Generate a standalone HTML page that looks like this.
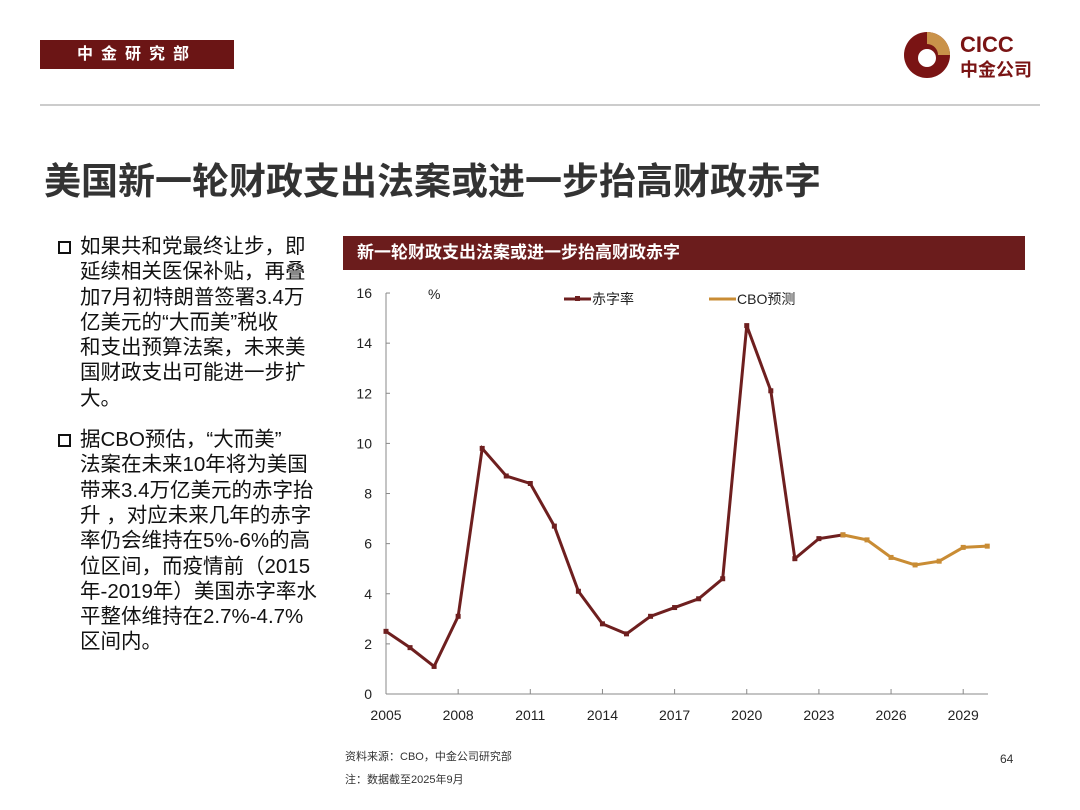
<!DOCTYPE html>
<html><head><meta charset="utf-8"><style>
body{margin:0;width:1080px;height:810px;background:#fff;font-family:"Liberation Sans","Noto Sans CJK SC",sans-serif;position:relative;overflow:hidden}
.abs{position:absolute}
</style></head><body>
<div class="abs" style="left:40px;top:40px;width:194px;height:29px;background:#6b1515;color:#fff;font-size:16px;font-weight:bold;line-height:29px;text-align:center;letter-spacing:8px">中金研究部</div>
<div class="abs" style="left:902px;top:28px;width:150px;height:56px">
<svg width="50" height="50" viewBox="0 0 50 50" style="position:absolute;left:0;top:2px"><circle cx="25" cy="25" r="23" fill="#7a1414"/><path d="M25 2 A23 23 0 0 1 48 25 L36 25 A11 11 0 0 0 25 14Z" fill="#c9924a"/><circle cx="25" cy="28" r="9" fill="#fff"/></svg>
<div class="abs" style="left:58px;top:4px;color:#7a1414;font-size:22px;font-weight:bold">CICC</div>
<div class="abs" style="left:58px;top:28px;color:#7a1414;font-size:18px;font-weight:bold">中金公司</div>
</div>
<div class="abs" style="left:40px;top:104px;width:1000px;height:2px;background:#ccc"></div>
<div class="abs" style="left:44px;top:151px;font-size:37px;font-weight:bold;color:#333;white-space:nowrap">美国新一轮财政支出法案或进一步抬高财政赤字</div>
<div class="abs" style="left:58px;top:234px;width:290px;font-size:20.5px;line-height:25.3px;color:#111;white-space:nowrap">
<div style="padding-left:22px;position:relative;margin-bottom:16px"><span style="position:absolute;left:0;top:7px;width:9px;height:9px;border:2px solid #111"></span>如果共和党最终让步，即<br>延续相关医保补贴，再叠<br>加7月初特朗普签署3.4万<br>亿美元的“大而美”税收<br>和支出预算法案，未来美<br>国财政支出可能进一步扩<br>大。</div>
<div style="padding-left:22px;position:relative"><span style="position:absolute;left:0;top:7px;width:9px;height:9px;border:2px solid #111"></span>据CBO预估，“大而美”<br>法案在未来10年将为美国<br>带来3.4万亿美元的赤字抬<br>升 ，对应未来几年的赤字<br>率仍会维持在5%-6%的高<br>位区间，而疫情前（2015<br>年-2019年）美国赤字率水<br>平整体维持在2.7%-4.7%<br>区间内。</div>
</div>
<div class="abs" style="left:343px;top:236px;width:682px;height:34px;background:#6b1c1c;color:#fff;font-size:17px;font-weight:bold;line-height:34px;padding-left:14px;box-sizing:border-box">新一轮财政支出法案或进一步抬高财政赤字</div>
<svg class="abs" style="left:0;top:0" width="1080" height="810" id="chart"></svg>
<div class="abs" style="left:345px;top:746px;font-size:11px;color:#333;line-height:23px">资料来源：CBO，中金公司研究部<br>注：数据截至2025年9月</div>
<div class="abs" style="left:1000px;top:752px;font-size:12px;color:#333">64</div>
<script>
const years=[2005,2006,2007,2008,2009,2010,2011,2012,2013,2014,2015,2016,2017,2018,2019,2020,2021,2022,2023,2024];
const deficit=[2.5,1.85,1.1,3.1,9.8,8.7,8.4,6.7,4.1,2.8,2.4,3.1,3.45,3.8,4.6,14.7,12.1,5.4,6.2,6.35];
const cboYears=[2024,2025,2026,2027,2028,2029,2030];
const cbo=[6.35,6.15,5.45,5.15,5.3,5.85,5.9];
const yTicks=[0,2,4,6,8,10,12,14,16];
const xTicks=[2005,2008,2011,2014,2017,2020,2023,2026,2029];
const svg=document.getElementById('chart');const NS='http://www.w3.org/2000/svg';
const X=y=>386+(y-2005)*24.05, Y=v=>694-v*25.06;
function el(t,a,p){const e=document.createElementNS(NS,t);for(const k in a)e.setAttribute(k,a[k]);(p||svg).appendChild(e);return e;}
const ax=el('line',{x1:386,y1:293,x2:386,y2:694,stroke:'#888'});


const bx=el('line',{x1:386,y1:694,x2:988,y2:694,stroke:'#888'});


yTicks.forEach(v=>{el('line',{x1:386,x2:390,y1:Y(v),y2:Y(v),stroke:'#888'});
const t=el('text',{x:372,y:Y(v)+5,'text-anchor':'end','font-size':14,fill:'#222'});t.textContent=v;

});
xTicks.forEach(v=>{el('line',{x1:X(v),x2:X(v),y1:694,y2:689,stroke:'#888'});
const t=el('text',{x:X(v),y:720,'text-anchor':'middle','font-size':14,fill:'#222'});t.textContent=v;

});
const u=el('text',{x:428,y:299,'font-size':14,fill:'#222'});u.textContent='%';


function series(xs,vs,c,name){const p=el('polyline',{points:xs.map((y,i)=>X(y)+','+Y(vs[i])).join(' '),fill:'none',stroke:c,'stroke-width':3});


xs.forEach((y,i)=>el('rect',{x:X(y)-2.5,y:Y(vs[i])-2.5,width:5,height:5,fill:c}));}
series(years,deficit,'#6e1f1f','deficit-line');
series(cboYears,cbo,'#c98c34','cbo-line');
el('line',{x1:564,x2:591,y1:299,y2:299,stroke:'#6e1f1f','stroke-width':3});el('rect',{x:575,y:296,width:5,height:5,fill:'#6e1f1f'});
const l1=el('text',{x:592,y:304,'font-size':14,fill:'#222'});l1.textContent='赤字率';


el('line',{x1:709,x2:736,y1:299,y2:299,stroke:'#c98c34','stroke-width':3});
const l2=el('text',{x:737,y:304,'font-size':14,fill:'#222'});l2.textContent='CBO预测';


</script>
</body></html>
